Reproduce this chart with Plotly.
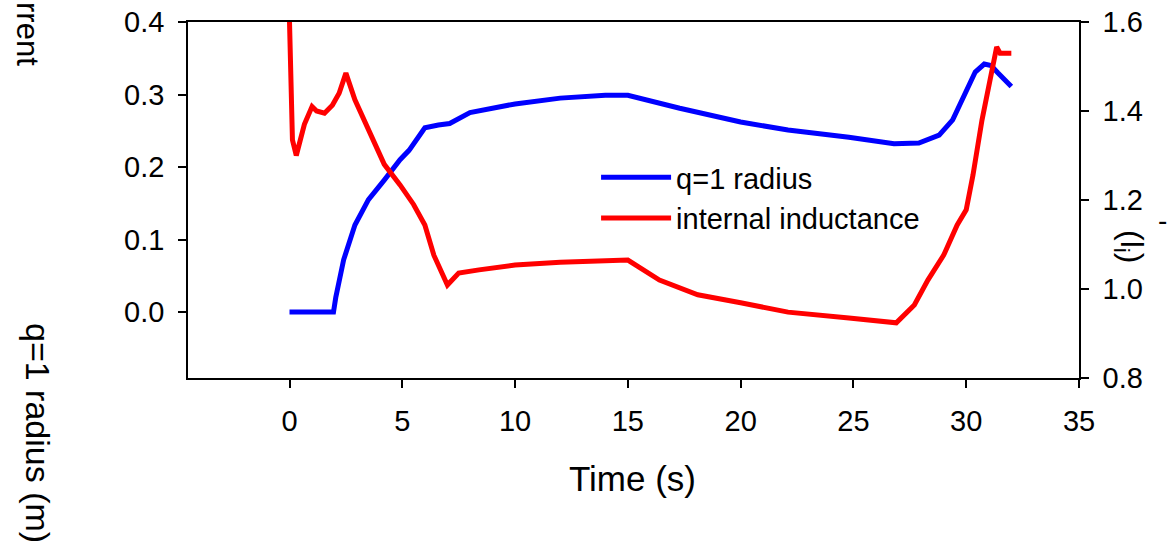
import plotly.graph_objects as go

# q=1 radius (m), left axis
t_q = [0.0, 1.0, 1.95, 2.05, 2.15, 2.4, 2.9, 3.5, 4.2, 4.9, 5.3, 6.0, 6.6, 7.1, 8.0, 10.0, 12.0, 14.0, 15.0,
       15.5, 17.3, 20.0, 22.1, 24.8, 26.8, 27.9, 28.8, 29.4, 29.9, 30.4, 30.8, 31.1, 31.4, 31.8, 32.0]
q_radius = [0.0, 0.0, 0.0, 0.02, 0.035, 0.072, 0.12, 0.155, 0.182, 0.21, 0.223, 0.254, 0.258, 0.26, 0.275,
            0.287, 0.295, 0.299, 0.299, 0.295, 0.281, 0.262, 0.251, 0.241, 0.232, 0.233, 0.244, 0.265,
            0.299, 0.331, 0.342, 0.340, 0.330, 0.316, 0.311]

# internal inductance, right axis
t_li = [0.0, 0.13, 0.3, 0.66, 1.0, 1.2, 1.55, 1.9, 2.2, 2.5, 2.9, 3.5, 4.2, 4.9, 5.5, 6.0, 6.4, 7.0, 7.5,
        8.4, 10.0, 12.0, 14.2, 15.0, 16.4, 18.1, 20.0, 22.1, 24.8, 26.9, 27.7, 28.3, 29.0, 29.6, 30.0,
        30.3, 30.7, 31.1, 31.35, 31.5, 31.8, 32.0]
li = [1.60, 1.335, 1.30, 1.37, 1.41, 1.40, 1.395, 1.413, 1.44, 1.485, 1.425, 1.357, 1.28, 1.234, 1.19,
      1.144, 1.076, 1.009, 1.036, 1.043, 1.054, 1.06, 1.065, 1.065, 1.02, 0.987, 0.969, 0.948, 0.935,
      0.924, 0.964, 1.02, 1.076, 1.144, 1.178, 1.256, 1.38, 1.49, 1.544, 1.53, 1.53, 1.53]

x_ticks = [0, 5, 10, 15, 20, 25, 30, 35]
y1_ticks = [0.0, 0.1, 0.2, 0.3, 0.4]
y2_ticks = [0.8, 1.0, 1.2, 1.4, 1.6]

FONT = "Arial, Liberation Sans, sans-serif"

fig = go.Figure()
fig.add_trace(go.Scatter(x=t_q, y=q_radius, mode="lines", name="q=1 radius",
                         line=dict(color="#0000ff", width=5), yaxis="y"))
fig.add_trace(go.Scatter(x=t_li, y=li, mode="lines", name="internal inductance",
                         line=dict(color="#ff0000", width=5), yaxis="y2"))

axis_common = dict(showline=True, linecolor="black", linewidth=1.5, ticks="outside", ticklen=8,
                   tickwidth=1.5, tickcolor="black", showgrid=False, zeroline=False, automargin=False,
                   ticklabelstandoff=8,
                   tickfont=dict(family=FONT, size=29, color="black"))

fig.update_layout(
    width=1170, height=546,
    margin=dict(l=188, r=91, t=22, b=168, autoexpand=False),
    paper_bgcolor="white", plot_bgcolor="white",
    font=dict(family=FONT, color="black"),
    xaxis=dict(range=[-4.5, 35], tickvals=x_ticks, mirror=True, **axis_common),
    yaxis=dict(range=[-0.091, 0.4], tickvals=y1_ticks, tickformat=".1f", **axis_common),
    yaxis2=dict(range=[0.8, 1.6], tickvals=y2_ticks, tickformat=".1f", overlaying="y", side="right",
                **axis_common),
    showlegend=True,
    legend=dict(x=0.458, y=0.635, xanchor="left", yanchor="top", bgcolor="rgba(0,0,0,0)",
                font=dict(family=FONT, size=29, color="black"), itemwidth=70),
)

H = 356.0
W = 891.0


def px(xp):
    return (xp - 188) / W


def py(yp):
    return (378 - yp) / H


def label(text, xp, yp, size, angle=0):
    fig.add_annotation(text=text, xref="paper", yref="paper", x=px(xp), y=py(yp),
                       xanchor="center", yanchor="middle", textangle=angle, showarrow=False,
                       font=dict(family=FONT, size=size, color="black"))


label("Time (s)", 632, 478, 35)
label("q=1 radius (m)", 38, 433, 34, 90)
label("rrent", 27, 34, 31, 90)
label("(l<sub>i</sub>)", 1130, 246, 32, 90)
label("-", 1162, 220, 28)

fig.write_html("out.html")
